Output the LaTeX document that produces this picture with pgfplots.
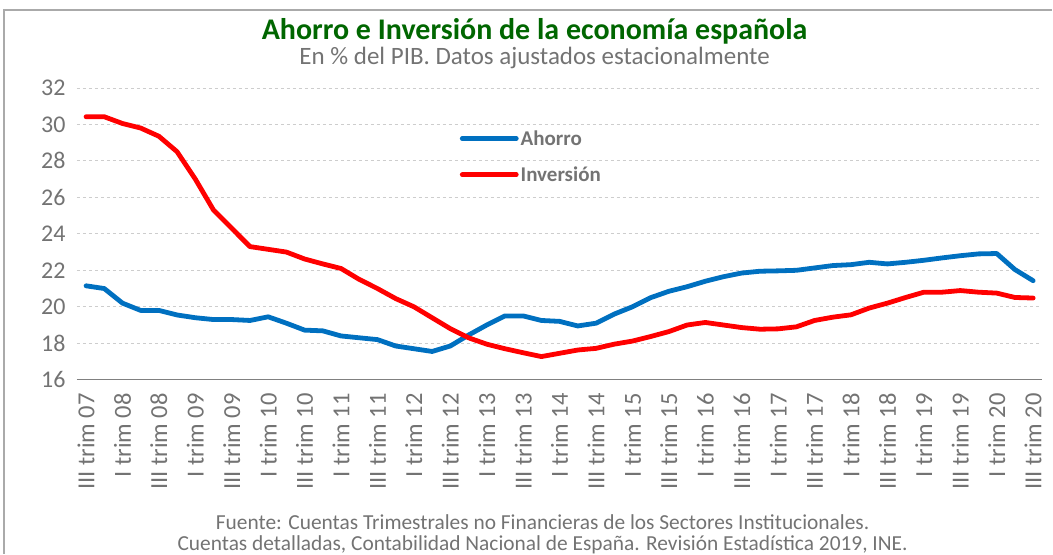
\documentclass[border=0pt]{standalone}
\usepackage{fontspec}
\setmainfont{Carlito}
\usepackage{pgfplots}
\pgfplotsset{compat=1.18}
\definecolor{ablue}{RGB}{0,112,192}
\definecolor{ared}{RGB}{255,0,0}
\definecolor{tgray}{RGB}{115,115,115}
\definecolor{tgreen}{RGB}{0,102,0}
\definecolor{gridc}{RGB}{205,205,205}
\definecolor{framec}{RGB}{170,170,170}
\begin{document}
\begin{tikzpicture}[x=1pt,y=1pt]
\begin{axis}[
  scale only axis, anchor=south west, at={(77pt,174pt)},
  width=966pt, height=292pt,
  xmin=-0.5, xmax=52.5, ymin=16, ymax=32,
  ytick={16,18,...,32},
  xtick={0,2,...,52},
  xticklabels={III trim 07,I trim 08,III trim 08,I trim 09,III trim 09,I trim 10,III trim 10,I trim 11,III trim 11,I trim 12,III trim 12,I trim 13,III trim 13,I trim 14,III trim 14,I trim 15,III trim 15,I trim 16,III trim 16,I trim 17,III trim 17,I trim 18,III trim 18,I trim 19,III trim 19,I trim 20,III trim 20},
  x tick label style={rotate=90, anchor=east, font=\fontsize{24.5}{26}\selectfont, text=tgray},
  y tick label style={font=\fontsize{24}{26}\selectfont, text=tgray},
  xticklabel shift=10pt, yticklabel shift=8pt,
  /pgf/number format/assume math mode=true,
  major tick length=0pt,
  axis line style={draw=none},
  ymajorgrids, grid style={gridc, dashed, line width=0.8pt},
  clip=false,
  after end axis/.code={\draw[gray, line width=1.5pt] (rel axis cs:0,0) -- (rel axis cs:1,0);},
  legend style={at={(0.3965,0.862)}, anchor=north west, draw=none, fill=none,
    font=\fontsize{21}{24}\selectfont\bfseries, text=tgray, row sep=16pt, inner sep=0pt,
    nodes={inner sep=2pt}},
  legend cell align=left,
  legend image code/.code={\draw[#1, line cap=round] (0pt,0pt) -- (54pt,0pt);},
]
\addplot[ablue, line width=4.8pt, line join=round, line cap=round] coordinates {
(0,21.15)(1,21.0)(2,20.2)(3,19.8)(4,19.8)(5,19.55)(6,19.4)(7,19.3)(8,19.3)(9,19.25)
(10,19.45)(11,19.1)(12,18.72)(13,18.68)(14,18.4)(15,18.3)(16,18.2)(17,17.85)(18,17.7)(19,17.55)
(20,17.85)(21,18.45)(22,19.0)(23,19.5)(24,19.5)(25,19.25)(26,19.2)(27,18.95)(28,19.1)(29,19.6)
(30,20.0)(31,20.5)(32,20.85)(33,21.1)(34,21.4)(35,21.65)(36,21.85)(37,21.95)(38,21.97)(39,22.0)
(40,22.13)(41,22.26)(42,22.31)(43,22.44)(44,22.35)(45,22.44)(46,22.55)(47,22.68)(48,22.8)(49,22.9)
(50,22.92)(51,22.04)(52,21.43)};
\addlegendentry{Ahorro}
\addplot[ared, line width=4.8pt, line join=round, line cap=round] coordinates {
(0,30.42)(1,30.42)(2,30.05)(3,29.8)(4,29.35)(5,28.5)(6,27.0)(7,25.3)(8,24.3)(9,23.3)
(10,23.15)(11,23.0)(12,22.62)(13,22.35)(14,22.1)(15,21.5)(16,21.0)(17,20.45)(18,20.0)(19,19.4)
(20,18.8)(21,18.3)(22,17.95)(23,17.7)(24,17.48)(25,17.27)(26,17.45)(27,17.63)(28,17.72)(29,17.95)
(30,18.12)(31,18.37)(32,18.64)(33,19.0)(34,19.14)(35,19.0)(36,18.86)(37,18.77)(38,18.79)(39,18.9)
(40,19.25)(41,19.43)(42,19.56)(43,19.93)(44,20.2)(45,20.51)(46,20.8)(47,20.8)(48,20.89)(49,20.8)
(50,20.75)(51,20.51)(52,20.48)};
\addlegendentry{Inversión}
\end{axis}
\draw[framec, line width=1.5pt] (4,0) -- (4,544) -- (1053,544);
\node[inner sep=0pt, text=tgreen, font=\fontsize{30}{34}\selectfont\bfseries] at (535,523) {Ahorro e Inversión de la economía española};
\node[inner sep=0pt, text=tgray, font=\fontsize{25}{28}\selectfont] at (535,496) {En \% del PIB. Datos ajustados estacionalmente};
\node[inner sep=0pt, text=tgray, font=\fontsize{21.4}{24}\selectfont] at (543,31) {Fuente: Cuentas Trimestrales no Financieras de los Sectores Institucionales.};
\node[inner sep=0pt, text=tgray, font=\fontsize{21.4}{24}\selectfont] at (543,9) {Cuentas detalladas, Contabilidad Nacional de España. Revisión Estadística 2019, INE.};
\useasboundingbox (0,0) rectangle (1053,554);
\end{tikzpicture}
\end{document}
